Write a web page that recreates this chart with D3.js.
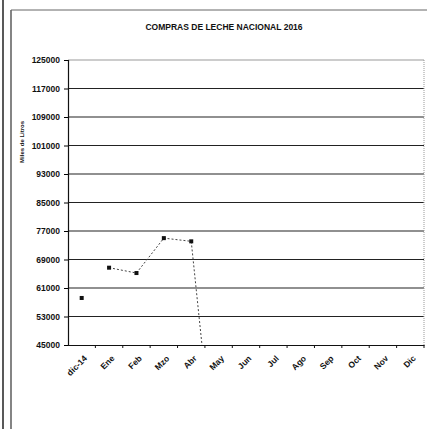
<!DOCTYPE html>
<html>
<head>
<meta charset="utf-8">
<script src="https://cdn.jsdelivr.net/npm/d3@7"></script>
<style>
  body { margin: 0; background: #fff; }
  svg text { font-family: "Liberation Sans", Arial, sans-serif; font-weight: bold; fill: #111; }
</style>
</head>
<body>
<div id="chart"></div>
<script>
var months = ["dic-14", "Ene", "Feb", "Mzo", "Abr", "May", "Jun", "Jul", "Ago", "Sep", "Oct", "Nov", "Dic"];
var prevYear = [58200, null, null, null, null, null, null, null, null, null, null, null, null];
var compras = [null, 66700, 65200, 75000, 74100, 0, null, null, null, null, null, null, null];
var yTicks = [45000, 53000, 61000, 69000, 77000, 85000, 93000, 101000, 109000, 117000, 125000];

var W = 427, H = 429;
var margin = {left: 68, right: 3, top: 60, bottom: 84};

var svg = d3.select("#chart").append("svg")
    .attr("width", W)
    .attr("height", H);

// outer frame (scanned page edges)
svg.append("line").attr("x1", 3).attr("x2", 3).attr("y1", 0).attr("y2", H)
    .attr("stroke", "#222").attr("stroke-width", 1.5);
svg.append("line").attr("x1", 11).attr("x2", 11).attr("y1", 10).attr("y2", H)
    .attr("stroke", "#333").attr("stroke-width", 1.2);
svg.append("line").attr("x1", 11).attr("x2", W).attr("y1", 10).attr("y2", 10)
    .attr("stroke", "#666").attr("stroke-width", 1);

svg.append("text")
    .attr("x", 224)
    .attr("y", 30)
    .attr("text-anchor", "middle")
    .style("font-size", "8.5px")
    .text("COMPRAS DE LECHE NACIONAL 2016");

var x = d3.scaleBand()
    .domain(months)
    .range([margin.left, W - margin.right]);

var y = d3.scaleLinear()
    .domain([45000, 125000])
    .range([H - margin.bottom, margin.top]);

// gridlines
svg.append("g").selectAll("line")
    .data(yTicks.slice(1))
    .enter()
    .append("line")
      .attr("x1", margin.left)
      .attr("x2", W - margin.right)
      .attr("y1", function(d){ return y(d); })
      .attr("y2", function(d){ return y(d); })
      .attr("stroke", function(d){ return d == 125000 ? "#999" : "#222"; })
      .attr("stroke-width", 1.2);

// right edge
svg.append("line")
    .attr("x1", W - margin.right).attr("x2", W - margin.right)
    .attr("y1", margin.top).attr("y2", H - margin.bottom)
    .attr("stroke", "#999").attr("stroke-dasharray", "1,1");

// y axis
var yAxis = svg.append("g")
    .attr("transform", "translate(" + margin.left + ",0)")
    .call(d3.axisLeft(y).tickValues(yTicks).tickFormat(d3.format("d")).tickSize(4).tickPadding(4));
yAxis.selectAll("text").style("font-size", "8.5px");
yAxis.select(".domain").attr("stroke", "#111").attr("stroke-width", 1.2);

// x axis
var xAxis = svg.append("g")
    .attr("transform", "translate(0," + (H - margin.bottom) + ")")
    .call(d3.axisBottom(x).tickSize(0).tickFormat(""));
xAxis.select(".domain").attr("stroke", "#111").attr("stroke-width", 1.2);
xAxis.selectAll(".sep")
    .data(months)
    .enter()
    .append("line")
      .attr("class", "sep")
      .attr("x1", function(d){ return x(d) + x.bandwidth(); })
      .attr("x2", function(d){ return x(d) + x.bandwidth(); })
      .attr("y1", 0)
      .attr("y2", 3)
      .attr("stroke", "#111");
xAxis.selectAll(".lbl")
    .data(months)
    .enter()
    .append("text")
      .attr("class", "lbl")
      .attr("text-anchor", "end")
      .attr("transform", function(d){
          return "translate(" + (x(d) + x.bandwidth() / 2 + 6) + ",14) rotate(-45)";
      })
      .style("font-size", "8.5px")
      .text(function(d){ return d; });

svg.append("text")
    .attr("transform", "translate(24," + y(102000) + ") rotate(-90)")
    .attr("text-anchor", "middle")
    .style("font-size", "6px")
    .text("Miles de Litros");

// series
svg.append("clipPath").attr("id", "plotclip")
    .append("rect")
      .attr("x", margin.left)
      .attr("y", margin.top)
      .attr("width", W - margin.left - margin.right)
      .attr("height", H - margin.top - margin.bottom);

var cx = function(d, i){ return x(months[i]) + x.bandwidth() / 2; };
var line = d3.line()
    .defined(function(d){ return d !== null; })
    .x(cx)
    .y(function(d){ return y(d); });

var plot = svg.append("g").attr("clip-path", "url(#plotclip)");
plot.append("path")
    .datum(compras)
    .attr("fill", "none")
    .attr("stroke", "#444")
    .attr("stroke-width", 1)
    .attr("stroke-dasharray", "2,2")
    .attr("d", line);

[compras, prevYear].forEach(function(series){
    plot.selectAll(null)
      .data(series.map(function(v, i){ return [v, i]; }).filter(function(p){ return p[0] !== null && p[0] >= 45000; }))
      .enter()
      .append("rect")
        .attr("x", function(p){ return cx(p[0], p[1]) - 2; })
        .attr("y", function(p){ return y(p[0]) - 2; })
        .attr("width", 4)
        .attr("height", 4)
        .attr("fill", "#111");
});
</script>
</body>
</html>
